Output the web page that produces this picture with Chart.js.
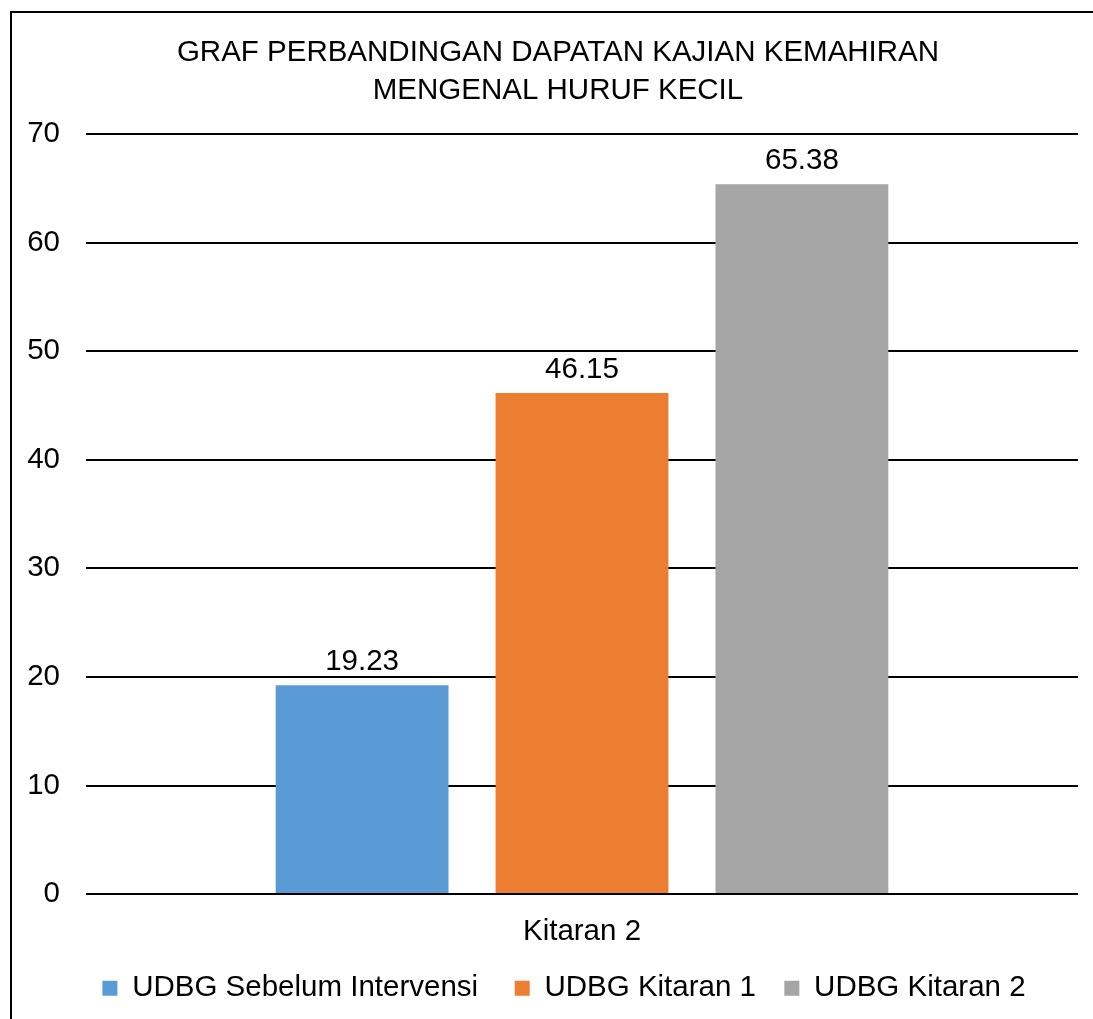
<!DOCTYPE html>
<html>
<head>
<meta charset="utf-8">
<title>Graf Perbandingan</title>
<script src="https://cdn.jsdelivr.net/npm/chart.js@4.4.1/dist/chart.umd.min.js"></script>
<style>
    html, body { margin: 0; padding: 0; background: #fff; overflow: hidden; }
    #bingkai {
        position: absolute;
        left: 10px;
        top: 11px;
        width: 1096px;
        height: 1012px;
        border: 2px solid #000;
        box-sizing: border-box;
    }
</style>
</head>
<body>
<div id="bingkai">
    <canvas id="grafKemahiran"></canvas>
</div>
<script>
// Data kajian kemahiran mengenal huruf kecil
var kategori = ['Kitaran 2'];
var namaSiri = ['UDBG Sebelum Intervensi', 'UDBG Kitaran 1', 'UDBG Kitaran 2'];
var nilaiSiri = [19.23, 46.15, 65.38];
var warnaSiri = ['#5B9BD5', '#ED7D31', '#A5A5A5'];
var tajuk = ['GRAF PERBANDINGAN DAPATAN KAJIAN KEMAHIRAN', 'MENGENAL HURUF KECIL'];

var fonUtama = { family: '"Liberation Sans", Arial, sans-serif', size: 29.5 };

// Tajuk ditulis sendiri supaya berada di tengah bingkai, bukan di tengah paksi
var tajukGraf = {
    id: 'tajukGraf',
    afterDraw: function(chart) {
        var ctx = chart.ctx;
        ctx.save();
        ctx.fillStyle = '#000';
        ctx.font = fonUtama.size + 'px ' + fonUtama.family;
        ctx.textAlign = 'center';
        ctx.textBaseline = 'middle';
        tajuk.forEach(function(baris, i) {
            ctx.fillText(baris, chart.width / 2, 40 + i * 38);
        });
        ctx.restore();
    }
};

// Plugin kecil untuk menulis nilai di atas setiap bar
var labelNilai = {
    id: 'labelNilai',
    afterDatasetsDraw: function(chart) {
        var ctx = chart.ctx;
        ctx.save();
        ctx.fillStyle = '#000';
        ctx.font = fonUtama.size + 'px ' + fonUtama.family;
        ctx.textAlign = 'center';
        ctx.textBaseline = 'alphabetic';
        chart.data.datasets.forEach(function(ds, i) {
            var meta = chart.getDatasetMeta(i);
            meta.data.forEach(function(bar, j) {
                ctx.fillText(ds.data[j].toFixed(2), bar.x, bar.y - 15);
            });
        });
        ctx.restore();
    }
};

// Alihkan legenda sedikit ke kanan supaya seimbang dengan bingkai
var anjakLegenda = {
    id: 'anjakLegenda',
    afterLayout: function(chart) {
        if (chart.legend) {
            chart.legend.left += 12;
            chart.legend.right += 12;
        }
    }
};

var datasets = namaSiri.map(function(nama, i) {
    return {
        label: nama,
        data: [nilaiSiri[i]],
        backgroundColor: warnaSiri[i],
        borderWidth: 0,
        categoryPercentage: 0.665,
        barPercentage: 0.786
    };
});

// jarak tambahan antara item legenda (ruang di hujung teks)
var jarakLegenda = ['   ', '  ', ''];

new Chart(document.getElementById('grafKemahiran').getContext('2d'), {
    type: 'bar',
    data: {
        labels: kategori,
        datasets: datasets
    },
    options: {
        responsive: true,
        maintainAspectRatio: false,
        animation: false,
        layout: {
            padding: { left: 14, right: 26, top: 121, bottom: 8 }
        },
        plugins: {
            title: { display: false },
            legend: {
                position: 'bottom',
                labels: {
                    color: '#000',
                    font: fonUtama,
                    boxWidth: 15,
                    boxHeight: 15,
                    padding: 12,
                    generateLabels: function(chart) {
                        var asal = Chart.defaults.plugins.legend.labels.generateLabels(chart);
                        asal.forEach(function(item, i) {
                            item.text = item.text + jarakLegenda[i];
                        });
                        return asal;
                    }
                }
            },
            tooltip: { enabled: false }
        },
        scales: {
            x: {
                grid: { display: false },
                border: { display: false },
                ticks: { color: '#000', font: fonUtama, padding: 12 }
            },
            y: {
                min: 0,
                max: 70,
                ticks: { stepSize: 10, color: '#000', font: fonUtama, padding: 26 },
                grid: { color: '#000', lineWidth: 2, drawTicks: false },
                border: { display: false },
                afterFit: function(scale) {
                    scale.width = 60;
                }
            }
        }
    },
    plugins: [labelNilai, tajukGraf, anjakLegenda]
});
</script>
</body>
</html>
